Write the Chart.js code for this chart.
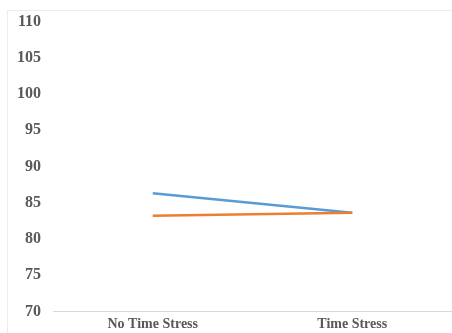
<!DOCTYPE html>
<html>
<head>
<meta charset="utf-8">
<script src="https://cdn.jsdelivr.net/npm/chart.js@4/dist/chart.umd.min.js"></script>
<style>
  html, body { margin: 0; padding: 0; background: #fff; }
  #wrap { position: relative; width: 452px; height: 333px; }
  #frame { position: absolute; left: 7px; top: 10px; right: 0; bottom: 0;
           border-left: 1px solid #ececec; border-top: 1px solid #ececec; }
  canvas { position: absolute; left: 0; top: 0; }
</style>
</head>
<body>
<div id="wrap">
  <div id="frame"></div>
  <canvas id="chart" width="452" height="333"></canvas>
</div>
<script>
const categories = ['No Time Stress', 'Time Stress'];
const blueSeries = [86.3, 83.6];
const orangeSeries = [83.2, 83.6];
const yMin = 70;
const yMax = 110;
const yStep = 5;

const ctx = document.getElementById('chart').getContext('2d');

new Chart(ctx, {
  type: 'line',
  data: {
    labels: categories,
    datasets: [
      {
        data: blueSeries,
        borderColor: '#5b9bd5',
        borderWidth: 2.5,
        pointRadius: 0,
        fill: false,
        order: 2
      },
      {
        data: orangeSeries,
        borderColor: '#ed7d31',
        borderWidth: 2.5,
        pointRadius: 0,
        fill: false,
        order: 1
      }
    ]
  },
  options: {
    responsive: false,
    animation: false,
    layout: { padding: { top: 12, right: 0, bottom: 0, left: 0 } },
    plugins: { legend: { display: false }, tooltip: { enabled: false } },
    scales: {
      x: {
        offset: true,
        grid: { display: false, drawTicks: false },
        border: { display: true, color: '#d9d9d9', width: 1 },
        afterFit: (scale) => { scale.height = 21; },
        ticks: {
          color: '#595959',
          padding: 5,
          maxRotation: 0,
          font: { family: 'Liberation Serif', size: 14, weight: 'bold' }
        }
      },
      y: {
        min: yMin,
        max: yMax,
        grid: { display: false, drawTicks: false },
        border: { display: false },
        afterFit: (scale) => { scale.width = 53; },
        ticks: {
          stepSize: yStep,
          color: '#595959',
          padding: 12,
          font: { family: 'Liberation Serif', size: 16, weight: 'bold' }
        }
      }
    }
  }
});
</script>
</body>
</html>
